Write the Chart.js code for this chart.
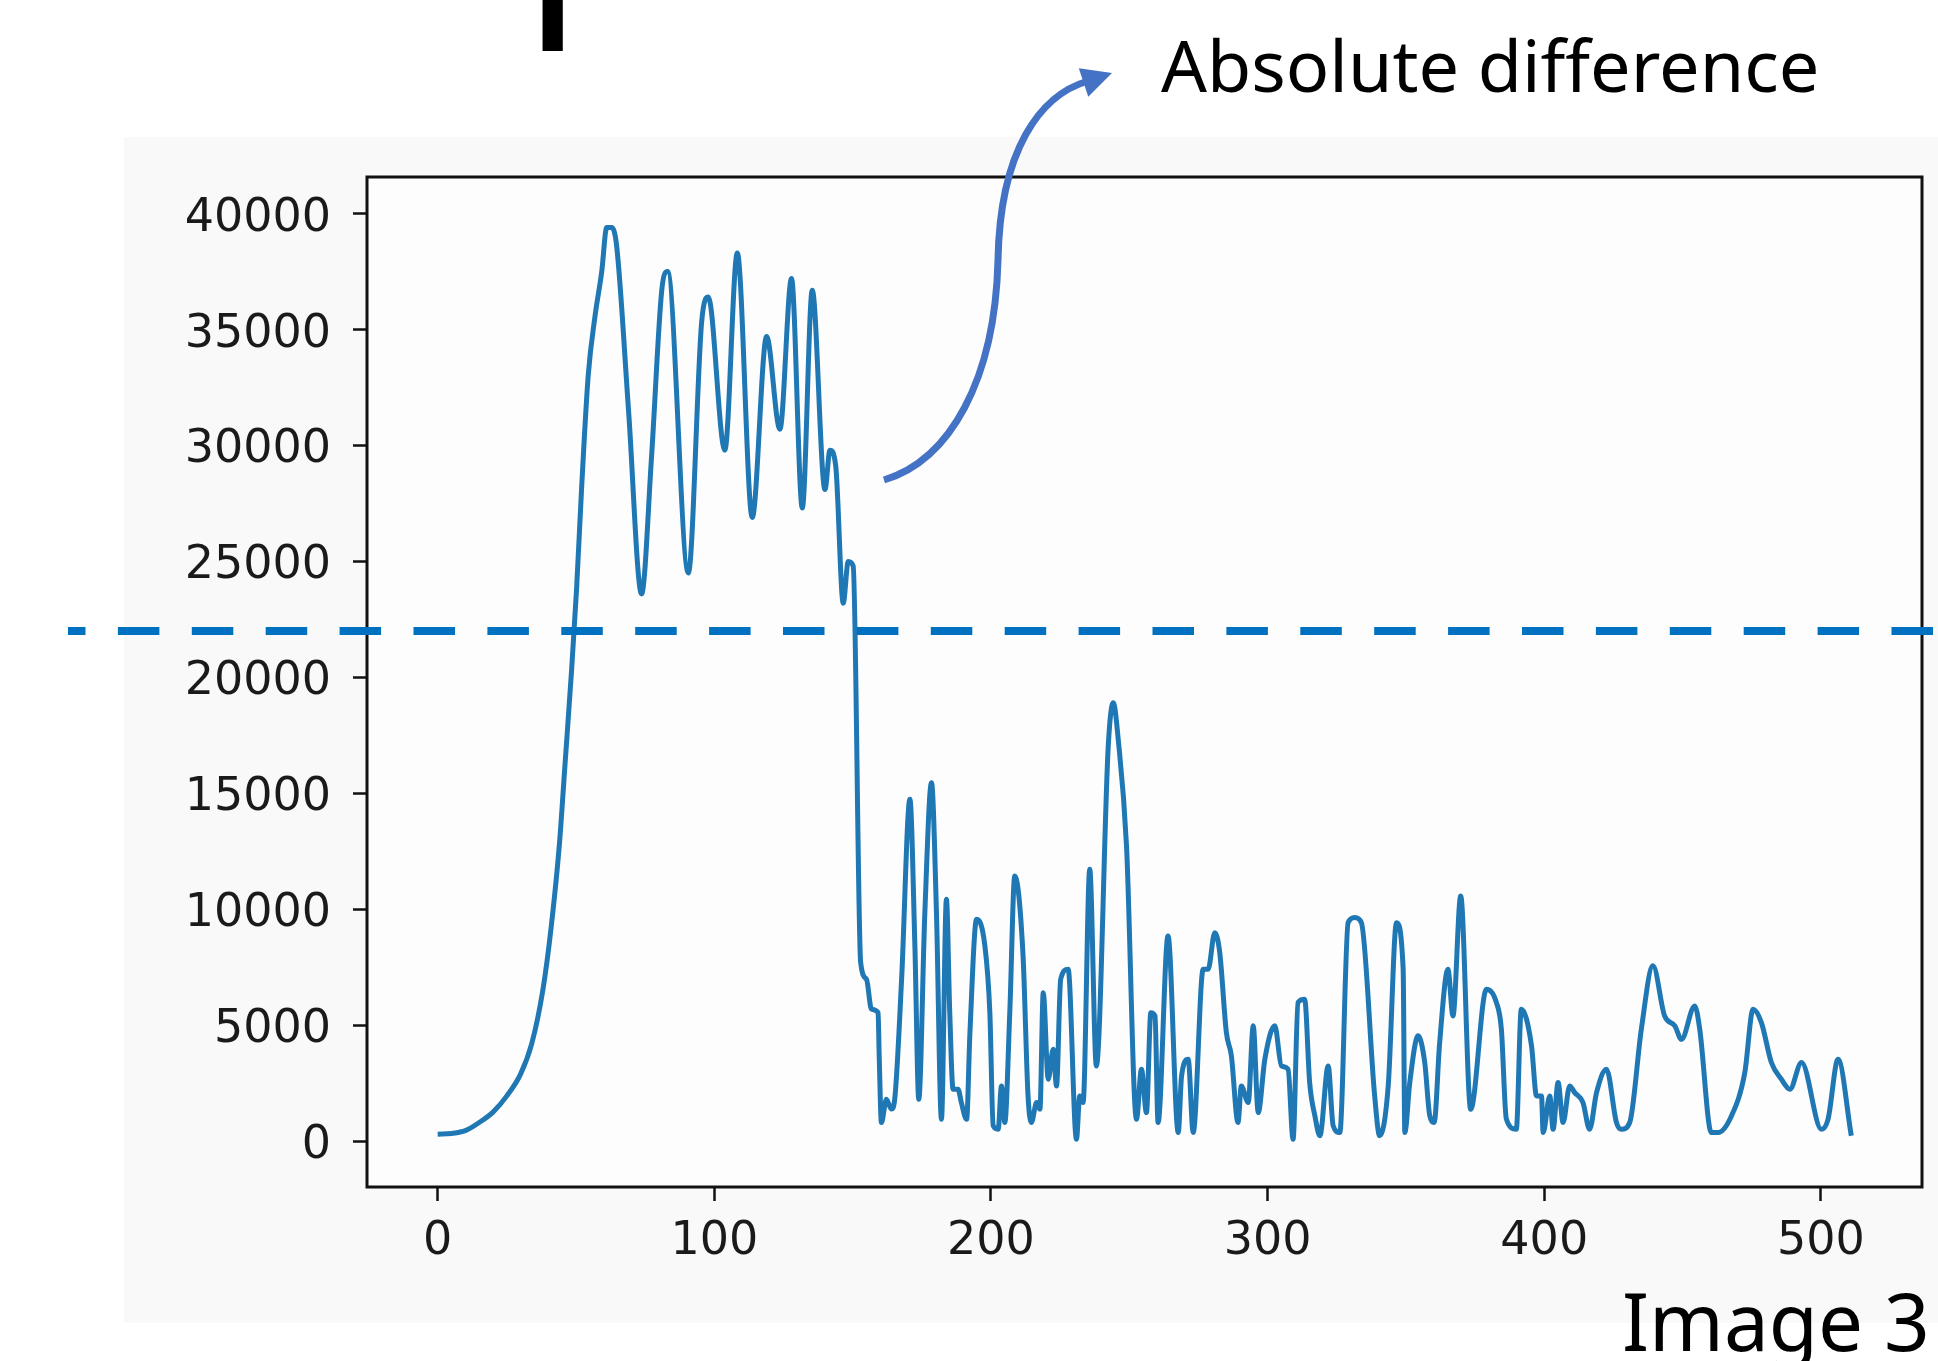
<!DOCTYPE html>
<html>
<head>
<meta charset="utf-8">
<script src="https://cdn.jsdelivr.net/npm/chart.js@4.4.0/dist/chart.umd.min.js"></script>
<style>
    html, body { margin: 0; padding: 0; background: #fff; }
    #wrap { position: relative; width: 1938px; height: 1361px; overflow: hidden; }
    #diff-chart { position: absolute; left: 0; top: 0; }
    .note { position: absolute; font-family: "Noto Sans", sans-serif; color: #000; line-height: 1; white-space: nowrap; }
    #note-diff { left: 1161px; top: 28px; font-size: 72px; }
    #note-image { left: 1622px; top: 1280px; font-size: 80px; }
</style>
</head>
<body>
<div id="wrap">
    <canvas id="diff-chart" width="1938" height="1361"></canvas>
    <div class="note" id="note-diff">Absolute difference</div>
    <div class="note" id="note-image">Image 3</div>
</div>
<script>
// Absolute difference per index (index, value)
const diffX = [
    0, 5, 10, 15, 20, 25, 30, 34, 38, 41, 44, 46, 48.4, 50.2, 52, 54.4, 56.9, 59.3, 61.1, 62.9,
    64.7, 69, 73.7, 77.3, 81, 83.1, 90.6, 95.4, 97.8, 103.8, 108.3, 113.7, 118.9, 123.7, 127.9, 131.8,
    135.4, 140, 141.8, 143.9, 146.6, 148.4, 150.2, 152.9, 155, 156.8, 159.2, 159.6, 160.4, 162.2,
    164, 165.2, 167.7, 170.7, 172.5, 173.9, 176.1, 178.5, 180.3, 182.1, 183.9, 185.1, 186.3, 188.1,
    189.3, 191.2, 192.4, 194.8, 197.8, 199.6, 200.8, 202.6, 203.8, 205, 206.8, 208.6, 211.6, 213.4,
    214.6, 216.5, 217.7, 218.9, 220.7, 222.5, 223.7, 225.2, 227.9, 230.9, 232.1, 233.3, 235.7, 238.1,
    242.4, 244.2, 246, 249, 252.6, 254.4, 256.2, 257.8, 259.3, 260.4, 264, 267.7, 268.9, 271.3,
    273.1, 276.7, 278.5, 280.9, 282.7, 285.1, 286.9, 289.3, 290.5, 293, 294.8, 296.6, 299, 302.6,
    305, 307.4, 309.2, 311, 313.4, 315.2, 317.1, 318.9, 321.9, 323.7, 326.1, 329.1, 331.5, 333.9,
    338.7, 340.5, 343.6, 346.6, 349, 349.6, 351.4, 354.4, 356.8, 358.6, 360.2, 362.2, 365.2, 367,
    369.8, 373.4, 379.1, 382.7, 384.5, 386.3, 389.9, 391.7, 395.4, 397.2, 399, 399.6, 402, 403.2,
    405, 406.8, 409.2, 411, 414, 416.4, 418.9, 422.5, 426.1, 427.9, 430.9, 435.1, 439.3, 443.5,
    447.2, 449.6, 454.4, 456.2, 460.4, 462.9, 467.7, 472.5, 475.5, 478.5, 482.1, 485.7, 488.8, 493,
    500.2, 502.6, 506.2, 511
];
const diffY = [
    300, 330, 450, 800, 1250, 1950, 2900, 4200, 6500, 9200, 12800, 16200, 20300, 23800, 28100, 33000, 35600, 37500, 39400, 39400,
    38600, 31500, 23600, 29500, 36700, 37500, 24500, 35300, 36400, 29800, 38300, 26900, 34700, 30700, 37200, 27300,
    36700, 28100, 29800, 29100, 23200, 25000, 24800, 7700, 6980, 5690, 5540, 3670, 800, 1800,
    1380, 1800, 6980, 14740, 8420, 1800, 9850, 15460, 9850, 940, 10430, 5540, 2240, 2240,
    1660, 940, 4680, 9570, 8420, 5540, 660, 510, 2380, 800, 5540, 11430, 7990, 1950,
    800, 1660, 1380, 6400, 2670, 3960, 2380, 6980, 7410, 80, 1950, 1660, 11720, 3240,
    17040, 18910, 17330, 12730, 940, 3100, 1230, 5540, 5400, 800, 8850, 370, 2810, 3530,
    370, 7410, 7410, 8990, 8130, 4680, 3680, 800, 2380, 1660, 4970, 1230, 3530, 4970,
    3240, 3100, 80, 5980, 6120, 2530, 1080, 230, 3240, 660, 370, 9420, 9640, 9420,
    1950, 230, 2380, 9420, 7410, 370, 2530, 4540, 3390, 1100, 800, 4250, 7410, 5400,
    10570, 1370, 6550, 5980, 4830, 950, 510, 5690, 4110, 1950, 1950, 370, 1950, 510,
    2530, 800, 2380, 2090, 1660, 510, 2090, 3100, 800, 510, 800, 4830, 7560, 5400,
    4970, 4390, 5830, 4830, 370, 370, 1090, 2960, 5690, 5110, 3390, 2670, 2240, 3390,
    510, 950, 3530, 230
];

const xTicks = [0, 100, 200, 300, 400, 500];
const yTicks = [0, 5000, 10000, 15000, 20000, 25000, 30000, 35000, 40000];
const xRange = [-25.55, 536.55];
const yRange = [-1980, 41580];
const thresholdValue = 22000;

/**
 * Background panels behind the plot
 */
const backdropPlugin = {
    id: 'backdrop',
    beforeDraw(chart) {
        const ctx = chart.ctx;
        const area = chart.chartArea;
        ctx.save();
        ctx.fillStyle = '#ffffff';
        ctx.fillRect(0, 0, chart.width, chart.height);
        ctx.fillStyle = '#f9f9f9';
        ctx.fillRect(124, 137, chart.width - 124, 1186);
        ctx.fillStyle = '#fdfdfd';
        ctx.fillRect(area.left, area.top, area.right - area.left, area.bottom - area.top);
        ctx.restore();
    }
};

/**
 * Frame, threshold line, arrow and the cut-off title glyph
 */
const overlayPlugin = {
    id: 'overlay',
    afterDraw(chart) {
        const ctx = chart.ctx;
        const area = chart.chartArea;
        ctx.save();

        // axes box
        ctx.strokeStyle = '#111';
        ctx.lineWidth = 3;
        ctx.strokeRect(area.left, area.top, area.right - area.left, area.bottom - area.top);

        // dashed threshold across the whole picture
        const yPix = chart.scales.y.getPixelForValue(thresholdValue);
        ctx.strokeStyle = '#0070c0';
        ctx.lineWidth = 8;
        ctx.setLineDash([41.5, 32.4]);
        ctx.lineDashOffset = 24;
        ctx.beginPath();
        ctx.moveTo(68, yPix);
        ctx.lineTo(chart.width, yPix);
        ctx.stroke();
        ctx.setLineDash([]);

        // curved arrow pointing to the label
        ctx.strokeStyle = '#4472c4';
        ctx.fillStyle = '#4472c4';
        ctx.lineWidth = 7;
        ctx.lineCap = 'butt';
        ctx.beginPath();
        ctx.moveTo(884, 480);
        ctx.bezierCurveTo(950, 460, 995, 380, 998, 260);
        ctx.bezierCurveTo(1000, 150, 1040, 95, 1088, 81);
        ctx.stroke();
        const tipX = 1112, tipY = 73;
        const ang = Math.atan2(-8, 24);
        ctx.beginPath();
        ctx.moveTo(tipX, tipY);
        ctx.lineTo(tipX - 30 * Math.cos(ang) + 15 * Math.sin(ang), tipY - 30 * Math.sin(ang) - 15 * Math.cos(ang));
        ctx.lineTo(tipX - 30 * Math.cos(ang) - 15 * Math.sin(ang), tipY - 30 * Math.sin(ang) + 15 * Math.cos(ang));
        ctx.closePath();
        ctx.fill();

        // descender of the title above, cut off by the top edge
        ctx.fillStyle = '#000';
        ctx.font = '230px "Noto Sans"';
        ctx.textBaseline = 'alphabetic';
        ctx.fillText('p', 523, -4);

        ctx.restore();
    }
};

const tickFont = { family: 'DejaVu Sans', size: 46 };

const ctx = document.getElementById('diff-chart');
const diffChart = new Chart(ctx, {
    type: 'line',
    data: {
        datasets: [{
            label: 'Absolute difference',
            data: diffX.map((x, i) => ({ x: x, y: diffY[i] })),
            borderColor: '#1f77b4',
            borderWidth: 5,
            pointRadius: 0,
            fill: false,
            cubicInterpolationMode: 'monotone'
        }]
    },
    options: {
        responsive: false,
        devicePixelRatio: 1,
        animation: false,
        layout: { padding: { top: 177, right: 16, left: 0, bottom: 0 } },
        plugins: {
            legend: { display: false },
            tooltip: { enabled: false }
        },
        scales: {
            x: {
                type: 'linear',
                min: xRange[0],
                max: xRange[1],
                afterBuildTicks: (scale) => { scale.ticks = xTicks.map(v => ({ value: v })); },
                afterFit: (scale) => { scale.height = 174; },
                grid: { display: true, drawOnChartArea: false, drawTicks: true, tickLength: 14, tickColor: '#111', tickWidth: 2.5 },
                border: { display: false },
                ticks: {
                    font: tickFont, color: '#1a1a1a', padding: 13, maxRotation: 0, autoSkip: false,
                    callback: (value) => String(value)
                }
            },
            y: {
                type: 'linear',
                min: yRange[0],
                max: yRange[1],
                afterBuildTicks: (scale) => { scale.ticks = yTicks.map(v => ({ value: v })); },
                afterFit: (scale) => { scale.width = 367; },
                grid: { display: true, drawOnChartArea: false, drawTicks: true, tickLength: 14, tickColor: '#111', tickWidth: 2.5 },
                border: { display: false },
                ticks: {
                    font: tickFont, color: '#1a1a1a', padding: 22, labelOffset: 5, autoSkip: false,
                    callback: (value) => String(value)
                }
            }
        }
    },
    plugins: [backdropPlugin, overlayPlugin]
});
</script>
</body>
</html>
